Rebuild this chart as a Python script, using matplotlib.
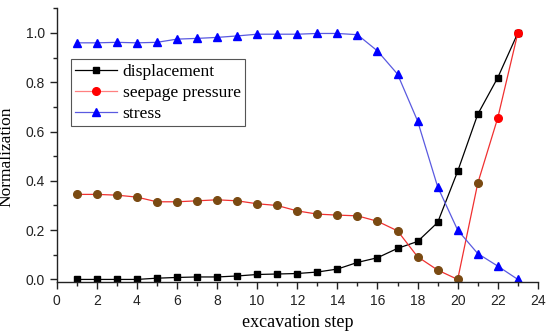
import matplotlib
matplotlib.use('Agg')
import matplotlib.pyplot as plt
from matplotlib.ticker import MultipleLocator

steps = list(range(1, 24))
displacement = [0.0, 0.0, 0.0, 0.0, 0.005, 0.008, 0.01, 0.01, 0.014, 0.02, 0.022, 0.024,
                0.03, 0.042, 0.069, 0.088, 0.126, 0.154, 0.231, 0.439, 0.67, 0.819, 1.0]
seepage = [0.345, 0.345, 0.342, 0.334, 0.315, 0.315, 0.319, 0.323, 0.319, 0.307, 0.30, 0.278,
           0.265, 0.261, 0.258, 0.236, 0.197, 0.092, 0.038, 0.0, 0.39, 0.656, 1.0]
stress = [0.96, 0.96, 0.962, 0.96, 0.962, 0.975, 0.978, 0.982, 0.988, 0.995, 0.995, 0.995,
          0.998, 0.998, 0.993, 0.927, 0.833, 0.643, 0.376, 0.20, 0.105, 0.054, 0.0]

serif = 'Liberation Serif'
sans = 'Liberation Sans'

fig = plt.figure(figsize=(5.5, 3.33), dpi=100)
ax = fig.add_axes([0.103, 0.152, 0.875, 0.823])

ax.plot(steps, displacement, 'k-s', lw=0.9, ms=5, label='displacement')
# seepage: red line, brownish markers (red for the last two points, as in the source)
ax.plot(steps, seepage, '-', color='#f03030', lw=0.9)
ax.plot(steps[:21], seepage[:21], 'o', color='#7a4a12', ms=5.5)
ax.plot(steps[21:], seepage[21:], 'o', color='#ff0000', ms=5.5)
ax.plot([], [], '-o', color='#ff8080', mfc='red', mec='red', lw=0.9, ms=5.5, label='seepage pressure')
ax.plot(steps, stress, '-^', color='#5a5ae0', mfc='blue', mec='blue', lw=0.9, ms=6, label='stress')

ax.set_xlim(0, 24)
ax.set_ylim(-0.012, 1.1)
ax.xaxis.set_major_locator(MultipleLocator(2))
ax.xaxis.set_minor_locator(MultipleLocator(1))
ax.yaxis.set_minor_locator(MultipleLocator(0.1))
ax.set_yticks([0.0, 0.2, 0.4, 0.6, 0.8, 1.0])
ax.set_yticklabels(['0.0', '0.2', '0.4', '0.6', '0.8', '1.0'])

for s in ['top', 'right']:
    ax.spines[s].set_visible(False)
for s in ['left', 'bottom']:
    ax.spines[s].set_linewidth(1.0)
    ax.spines[s].set_color('#222222')

ax.tick_params(which='major', direction='out', length=5, width=1, labelsize=10, colors='#222222')
ax.tick_params(which='minor', direction='out', length=3, width=1, colors='#222222')
for lab in ax.get_xticklabels() + ax.get_yticklabels():
    lab.set_fontfamily(sans)

ax.set_xlabel('excavation step', fontfamily=serif, fontsize=13, labelpad=4)
ax.set_ylabel('Normalization', fontfamily=serif, fontsize=12.5)
ax.yaxis.set_label_coords(-0.087, 0.46)

leg = ax.legend(loc='upper left', bbox_to_anchor=(0.03, 0.815), handlelength=2.4,
                prop={'family': serif, 'size': 12.6}, fancybox=False, framealpha=1,
                edgecolor='#555555', borderpad=0.25, labelspacing=0.28, handletextpad=0.3,
                borderaxespad=0)
leg.get_frame().set_linewidth(0.8)

fig.savefig('out.png', dpi=100)
